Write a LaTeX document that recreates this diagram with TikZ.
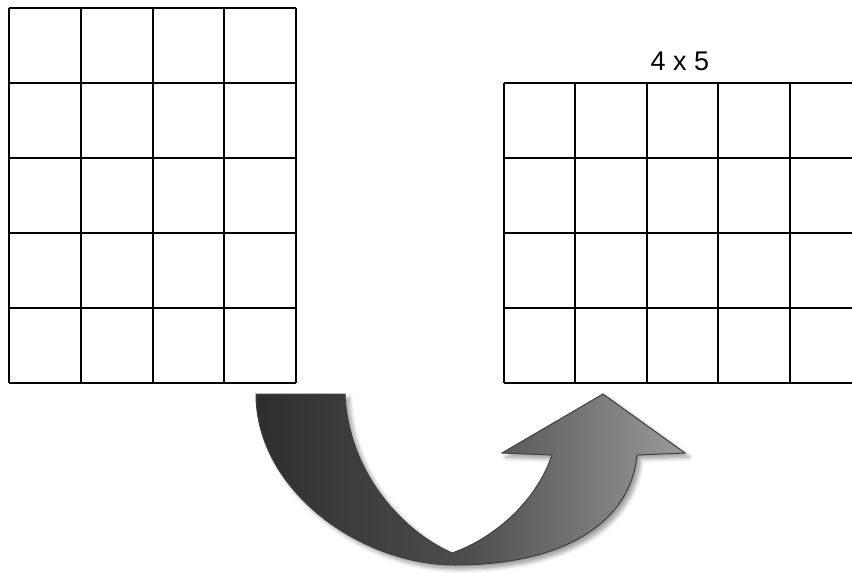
\documentclass[tikz,border=0pt]{standalone}
\usepackage{fontspec}
\setmainfont{Liberation Sans}
\usetikzlibrary{shadows.blur}
\definecolor{cdark}{HTML}{2e2e2e}
\definecolor{cmid}{HTML}{9a9a9a}

\begin{document}
\begin{tikzpicture}[x=0.5pt, y=-0.5pt,
      gridline/.style={line width=1pt, black},
      bigarrow/.style={left color=cdark, right color=cmid, middle color=cdark!70!cmid, draw=black!75, line width=0.5pt,
        blur shadow={shadow xshift=2pt, shadow yshift=-2pt, shadow blur steps=6, shadow opacity=40}},
      dimlabel/.style={font=\fontsize{13.5}{16}\selectfont, inner sep=0pt}
    ]
    \useasboundingbox (0,0) rectangle (852,573);
    \clip (0,0) rectangle (852,573);

    % left grid: 4 columns, 5 rows
    \foreach \i in {0,...,4}
      \draw[gridline] (9+\i*71.75,8) -- ++(0,375);
    \foreach \j in {0,...,5}
      \draw[gridline] (9,8+\j*75) -- ++(287,0);

    % right grid: 5 columns, 4 rows (runs off the edge)
    \foreach \i in {0,...,5}
      \draw[gridline] (504+\i*71.4,83) -- ++(0,300);
    \foreach \j in {0,...,4}
      \draw[gridline] (504,83+\j*75) -- ++(380,0);

    \node[dimlabel] (dims) at (680,61) {4 x 5};

    % curved arrow
    \fill[bigarrow] (256,394) -- (345,394)
      .. controls (348,470) and (400,530) .. (452,553)
      .. controls (490,540) and (535,505) .. (552,455)
      -- (502,453) -- (603,394) -- (685,453) -- (637,455)
      .. controls (630,525) and (560,565) .. (455,565)
      .. controls (360,565) and (256,490) .. cycle;
  \end{tikzpicture}
\end{document}
